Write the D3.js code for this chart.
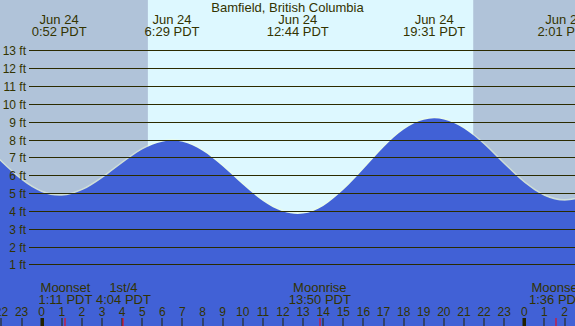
<!DOCTYPE html>
<html><head><meta charset="utf-8">
<script src="https://cdn.jsdelivr.net/npm/d3@7"></script>
<style>
body{margin:0;overflow:hidden;background:#fff}
svg{display:block}
text{font-family:"Liberation Sans",Arial,sans-serif;fill:#333300}
</style>
</head><body><svg id="c" width="575" height="326"></svg>
<script>
// ---- data (hours relative to Jun 24 00:00 PDT) ----
const title = "Bamfield, British Columbia";
const hourlyTimes   = [-3,-2,-1,0,1,2,3,4,5,6,7,8,9,10,11,12,13,14,15,16,17,18,19,20,21,22,23,24,25,26,27];
const hourlyHeights = [7.81,6.73,5.73,5.05,4.85,5.15,5.83,6.67,7.44,7.88,7.87,7.37,6.50,5.48,4.56,3.97,3.85,4.28,5.18,6.35,7.57,8.56,9.11,9.13,8.62,7.72,6.62,5.58,4.84,4.57,4.76];
const extremeTimes   = [0.867, 6.483, 12.733, 19.517, 26.017];
const extremeHeights = [4.85, 7.94, 3.83, 9.19, 4.57];
const extremeDates   = ["Jun 24","Jun 24","Jun 24","Jun 24","Jun 24"];
const extremeLabels  = ["0:52 PDT","6:29 PDT","12:44 PDT","19:31 PDT","2:01 PDT"];
const sunTimes = [5.28, 21.46];           // sunrise, sunset
const moonTimes  = [1.183, 4.067, 13.833, 25.6];
const moonNames  = ["Moonset","1st/4","Moonrise","Moonset"];
const moonLabels = ["1:11 PDT","4:04 PDT","13:50 PDT","1:36 PDT"];
const hourTicks = d3.range(-2, 27);
const ftTicks = d3.range(1, 14);

// ---- layout ----
const W = 575, H = 326;
const svg = d3.select("#c");
const x = d3.scaleLinear().domain([0, 24]).range([41.7, 524.3]);
const y = d3.scaleLinear().domain([0, 13]).range([282.2, 50.4]);

const series = hourlyTimes.map((t,i)=>({t, h:hourlyHeights[i]}))
  .concat(extremeTimes.map((t,i)=>({t, h:extremeHeights[i]})))
  .sort((a,b)=>a.t-b.t);

// backgrounds
const nightC = "#b0c3d9", dayC = "#ddf8ff";
svg.append("rect").attr("x",0).attr("y",0).attr("width",W).attr("height",H).attr("fill",nightC);
svg.append("rect").attr("x",x(sunTimes[0])).attr("y",0)
  .attr("width",x(sunTimes[1])-x(sunTimes[0])).attr("height",H).attr("fill",dayC);

// pale edge under the water (visible mainly at the troughs)
const line = d3.line().x(d=>x(d.t)).y(d=>y(d.h)).curve(d3.curveMonotoneX);
svg.append("path").datum(series).attr("d",line).attr("fill","none")
  .attr("stroke","#f4ffd8").attr("stroke-opacity",0.45).attr("stroke-width",1.6)
  .attr("transform","translate(0,-0.9)");

// water
const area = d3.area().x(d=>x(d.t)).y0(H).y1(d=>y(d.h)).curve(d3.curveMonotoneX);
svg.append("path").datum(series).attr("d",area).attr("fill","#4161d6");

// grid lines + y labels
const g = svg.append("g");
ftTicks.forEach(f=>{
  const yy = Math.round(y(f)) + 0.5;
  g.append("line").attr("x1",29).attr("x2",W).attr("y1",yy).attr("y2",yy)
    .attr("stroke","#2b2b00").attr("stroke-width",1);
  g.append("text").attr("x",26).attr("y",yy+4.3).attr("text-anchor","end")
    .attr("font-size","12px").text(f+" ft");
});

// header
svg.append("text").attr("x",W/2).attr("y",11.7).attr("text-anchor","middle")
  .attr("font-size","13px").text(title);
extremeTimes.forEach((t,i)=>{
  svg.append("text").attr("x",x(t)).attr("y",23.8).attr("text-anchor","middle")
    .attr("font-size","13px").text(extremeDates[i]);
  svg.append("text").attr("x",x(t)).attr("y",35.8).attr("text-anchor","middle")
    .attr("font-size","13px").text(extremeLabels[i]);
});

// moon labels
moonTimes.forEach((t,i)=>{
  svg.append("text").attr("x",x(t)).attr("y",291.8).attr("text-anchor","middle")
    .attr("font-size","13px").text(moonNames[i]);
  svg.append("text").attr("x",x(t)).attr("y",303.8).attr("text-anchor","middle")
    .attr("font-size","13px").text(moonLabels[i]);
});

// hour axis
hourTicks.forEach(h=>{
  const xx = Math.round(x(h));
  const lab = ((h % 24) + 24) % 24;
  svg.append("text").attr("x",x(h)).attr("y",316).attr("text-anchor","middle")
    .attr("font-size","12px").text(lab);
  const mid = lab === 0;
  svg.append("rect").attr("x", mid ? xx-1.5 : xx-0.5).attr("y",318)
    .attr("width", mid ? 3.5 : 1).attr("height",H-318).attr("fill","#222200");
});
moonTimes.forEach(t=>{
  svg.append("rect").attr("x",Math.round(x(t))-0.5).attr("y",318)
    .attr("width",1).attr("height",H-318).attr("fill","#ff0000");
});
</script>
</body></html>
